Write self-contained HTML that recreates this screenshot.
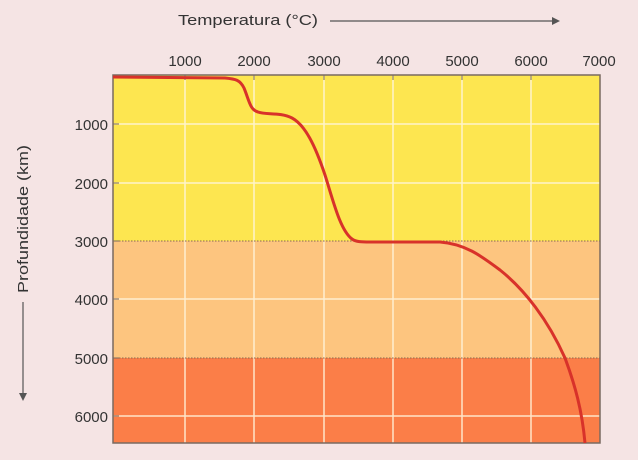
<!DOCTYPE html>
<html><head><meta charset="utf-8"><style>
body{margin:0;background:#f5e4e4;}
svg{display:block;font-family:"Liberation Sans",sans-serif;}
</style></head><body>
<svg width="638" height="460" viewBox="0 0 638 460">
<rect width="638" height="460" fill="#f5e4e4"/>
<rect x="113" y="75" width="487" height="166" fill="#fde650"/>
<rect x="113" y="241" width="487" height="117" fill="#fdc57f"/>
<rect x="113" y="358" width="487" height="85" fill="#fb7e48"/>
<g stroke="#fff7e0" stroke-width="1.5" opacity="0.85">
<line x1="185" y1="75" x2="185" y2="443"/><line x1="254" y1="75" x2="254" y2="443"/>
<line x1="324" y1="75" x2="324" y2="443"/><line x1="393" y1="75" x2="393" y2="443"/>
<line x1="462" y1="75" x2="462" y2="443"/><line x1="531" y1="75" x2="531" y2="443"/>
<line x1="113" y1="124" x2="600" y2="124"/><line x1="113" y1="183" x2="600" y2="183"/>
<line x1="113" y1="299" x2="600" y2="299"/><line x1="113" y1="416" x2="600" y2="416"/>
</g>
<g stroke="#8a6a50" stroke-width="1" stroke-dasharray="1.5,1.5">
<line x1="113" y1="241" x2="600" y2="241"/><line x1="113" y1="358" x2="600" y2="358"/>
</g>
<rect x="113" y="75" width="487" height="368" fill="none" stroke="#7a6a60" stroke-width="1.5"/>
<g stroke="#7a6a60" stroke-width="1">
<line x1="185" y1="75" x2="185" y2="80"/><line x1="254" y1="75" x2="254" y2="80"/><line x1="324" y1="75" x2="324" y2="80"/><line x1="393" y1="75" x2="393" y2="80"/><line x1="462" y1="75" x2="462" y2="80"/><line x1="531" y1="75" x2="531" y2="80"/>
<line x1="113" y1="124" x2="119" y2="124"/><line x1="113" y1="183" x2="119" y2="183"/><line x1="113" y1="241" x2="119" y2="241"/><line x1="113" y1="299" x2="119" y2="299"/><line x1="113" y1="358" x2="119" y2="358"/><line x1="113" y1="416" x2="119" y2="416"/>
</g>
<path d="M113,77 L225,78 C236,79 240,80 244,88 C249,100 250,110 258,112 C266,115 280,112 292,118 C305,125 315,145 325,175 C333,200 340,230 352,239 C356,242 362,242 370,242 L440,242 C465,244 480,255 500,270 C525,290 548,320 565,358 C575,385 582,410 585,443" fill="none" stroke="#d8322a" stroke-width="3"/>
<g font-size="15" fill="#333" text-anchor="middle">
<text x="185" y="66">1000</text><text x="254" y="66">2000</text><text x="324" y="66">3000</text><text x="393" y="66">4000</text><text x="462" y="66">5000</text><text x="531" y="66">6000</text><text x="599" y="66">7000</text>
</g>
<g font-size="15" fill="#333" text-anchor="end">
<text x="108" y="130">1000</text><text x="108" y="189">2000</text><text x="108" y="247">3000</text><text x="108" y="305">4000</text><text x="108" y="364">5000</text><text x="108" y="422">6000</text>
</g>
<text x="178" y="25" font-size="15" fill="#333" textLength="140" lengthAdjust="spacingAndGlyphs">Temperatura (°C)</text>
<line x1="330" y1="21" x2="555" y2="21" stroke="#555" stroke-width="1.2"/>
<path d="M560,21 L552,17 L552,25 Z" fill="#555"/>
<text transform="translate(28,293) rotate(-90)" font-size="15" fill="#333" textLength="148" lengthAdjust="spacingAndGlyphs">Profundidade (km)</text>
<line x1="23" y1="302" x2="23" y2="395" stroke="#555" stroke-width="1.2"/>
<path d="M23,401 L19,393 L27,393 Z" fill="#555"/>
</svg>
</body></html>
